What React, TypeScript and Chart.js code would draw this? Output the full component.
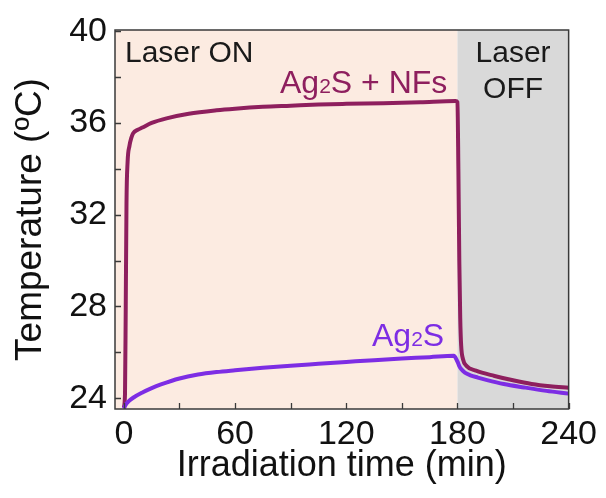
import { useEffect, useRef } from "react";
import { Chart, registerables } from "chart.js";

Chart.register(...registerables);

// ---- data ----
const timeNF = [0, 0.6, 1.0, 1.4, 2.0, 3.0, 4.0, 5, 7.5, 10, 15, 23, 35, 50, 60, 75, 90, 105, 120, 140, 160, 179, 180, 180.5, 181, 181.5, 182, 183, 185, 190, 200, 210, 220, 230, 240];
const tempNF = [23.6, 24.2, 28, 32.5, 34.3, 35.0, 35.35, 35.55, 35.7, 35.8, 36.0, 36.2, 36.4, 36.55, 36.62, 36.7, 36.75, 36.8, 36.83, 36.86, 36.9, 36.95, 36.9, 34, 30, 27.5, 26.3, 25.7, 25.4, 25.2, 24.97, 24.78, 24.62, 24.52, 24.46];

const timeAg = [0, 1, 2.5, 5, 10, 15, 20, 30, 40, 50, 60, 75, 90, 105, 120, 135, 150, 165, 178, 180, 181, 182, 184, 187, 191, 196, 205, 216, 228, 240];
const tempAg = [23.55, 23.72, 23.86, 24.02, 24.25, 24.44, 24.6, 24.86, 25.03, 25.14, 25.22, 25.33, 25.42, 25.5, 25.58, 25.66, 25.73, 25.79, 25.85, 25.6, 25.4, 25.27, 25.12, 25.0, 24.9, 24.79, 24.62, 24.47, 24.32, 24.2];

const xMin = -4.8;
const xMax = 240;
const yMin = 23.53;
const yMax = 40.05;
const laserOffStart = 180;
const xStep = 30;
const yStep = 2;
const xLabelEvery = 60;
const yLabelEvery = 4;

const FONT = "'Liberation Sans', Arial, sans-serif";
const COLOR_NF = "#8E1F5E";
const COLOR_AG = "#7D2DE4";
const COLOR_ON = "#FCEBE1";
const COLOR_OFF = "#D9D9D9";

const decorPlugin = {
  id: "decor",
  beforeDatasetsDraw(chart: any) {
    const { ctx, chartArea } = chart;
    const xs = chart.scales.x;
    const x180 = xs.getPixelForValue(laserOffStart);
    ctx.save();
    ctx.fillStyle = COLOR_ON;
    ctx.fillRect(chartArea.left, chartArea.top, x180 - chartArea.left, chartArea.bottom - chartArea.top);
    ctx.fillStyle = COLOR_OFF;
    ctx.fillRect(x180, chartArea.top, chartArea.right - x180, chartArea.bottom - chartArea.top);
    ctx.restore();
  },
  afterDatasetsDraw(chart: any) {
    const { ctx, chartArea } = chart;
    const xs = chart.scales.x;
    const ys = chart.scales.y;
    ctx.save();
    // frame
    ctx.strokeStyle = "#3a3a3a";
    ctx.lineWidth = 1.5;
    ctx.strokeRect(chartArea.left, chartArea.top, chartArea.right - chartArea.left, chartArea.bottom - chartArea.top);
    // inward ticks
    ctx.lineWidth = 1.3;
    ctx.beginPath();
    xs.ticks.forEach((t: any) => {
      const px = Math.round(xs.getPixelForValue(t.value)) + 0.5;
      ctx.moveTo(px, chartArea.bottom);
      ctx.lineTo(px, chartArea.bottom - 6);
    });
    ys.ticks.forEach((t: any) => {
      const py = Math.round(ys.getPixelForValue(t.value)) + 0.5;
      ctx.moveTo(chartArea.left, py);
      ctx.lineTo(chartArea.left + 6, py);
    });
    ctx.stroke();

    // annotations
    ctx.textBaseline = "alphabetic";
    ctx.fillStyle = "#1a1a1a";
    ctx.font = `30px ${FONT}`;
    ctx.textAlign = "left";
    ctx.fillText("Laser ON", chartArea.left + 10, 62);
    ctx.textAlign = "center";
    const offCenter = (xs.getPixelForValue(laserOffStart) + chartArea.right) / 2;
    ctx.fillText("Laser", offCenter, 62);
    ctx.fillText("OFF", offCenter, 98);

    const drawSub = (x: number, y: number, color: string, parts: [string, boolean][]) => {
      ctx.fillStyle = color;
      ctx.textAlign = "left";
      let cx = x;
      parts.forEach(([txt, sub]) => {
        ctx.font = sub ? `21px ${FONT}` : `32px ${FONT}`;
        ctx.fillText(txt, cx, y);
        cx += ctx.measureText(txt).width;
      });
    };
    drawSub(280, 93, COLOR_NF, [["Ag", false], ["2", true], ["S + NFs", false]]);
    drawSub(372, 346, COLOR_AG, [["Ag", false], ["2", true], ["S", false]]);
    ctx.restore();
  },
};

export default function App() {
  const ref = useRef<HTMLCanvasElement | null>(null);
  useEffect(() => {
    if (!ref.current) return;
    const chart = new Chart(ref.current, {
      type: "line",
      data: {
        datasets: [
          {
            label: "Ag2S",
            data: timeAg.map((t, i) => ({ x: t, y: tempAg[i] })),
            borderColor: COLOR_AG,
            borderWidth: 4,
            pointRadius: 0,
            cubicInterpolationMode: "monotone",
          },
          {
            label: "Ag2S + NFs",
            data: timeNF.map((t, i) => ({ x: t, y: tempNF[i] })),
            borderColor: COLOR_NF,
            borderWidth: 4,
            pointRadius: 0,
            cubicInterpolationMode: "monotone",
          },
        ],
      },
      options: {
        responsive: false,
        animation: false,
        layout: { padding: { left: 0, top: 30, right: 34, bottom: 0 } },
        plugins: { legend: { display: false }, tooltip: { enabled: false } },
        scales: {
          x: {
            type: "linear",
            min: xMin,
            max: xMax,
            grid: { display: false, drawTicks: false },
            border: { display: false },
            afterFit: (s: any) => {
              s.height = 89;
            },
            ticks: {
              stepSize: xStep,
              includeBounds: false,
              autoSkip: false,
              maxRotation: 0,
              minRotation: 0,
              padding: 9,
              color: "#111",
              font: { family: FONT, size: 34, lineHeight: 1 },
              callback: (v: any) => (Number(v) % xLabelEvery === 0 ? String(v) : ""),
            },
            title: {
              display: true,
              text: "Irradiation time (min)",
              color: "#111",
              font: { family: FONT, size: 36, lineHeight: 1 },
              padding: { top: 0, bottom: 14 },
            },
          },
          y: {
            type: "linear",
            min: yMin,
            max: yMax,
            grid: { display: false, drawTicks: false },
            border: { display: false },
            afterFit: (s: any) => {
              s.width = 115;
            },
            ticks: {
              stepSize: yStep,
              includeBounds: false,
              autoSkip: false,
              padding: 8,
              color: "#111",
              font: { family: FONT, size: 34, lineHeight: 1 },
              callback: (v: any) => (Math.round(Number(v)) % yLabelEvery === 0 ? String(v) : ""),
            },
            title: {
              display: true,
              text: "Temperature (ºC)",
              color: "#111",
              font: { family: FONT, size: 37, lineHeight: 1 },
              padding: { top: 12, bottom: 0 },
            },
          },
        },
      },
      plugins: [decorPlugin],
    } as any);
    return () => chart.destroy();
  }, []);
  return (
    <div style={{ position: "absolute", left: 0, top: 0, width: 606, height: 498, background: "#fff" }}>
      <canvas ref={ref} width={606} height={498} />
    </div>
  );
}
